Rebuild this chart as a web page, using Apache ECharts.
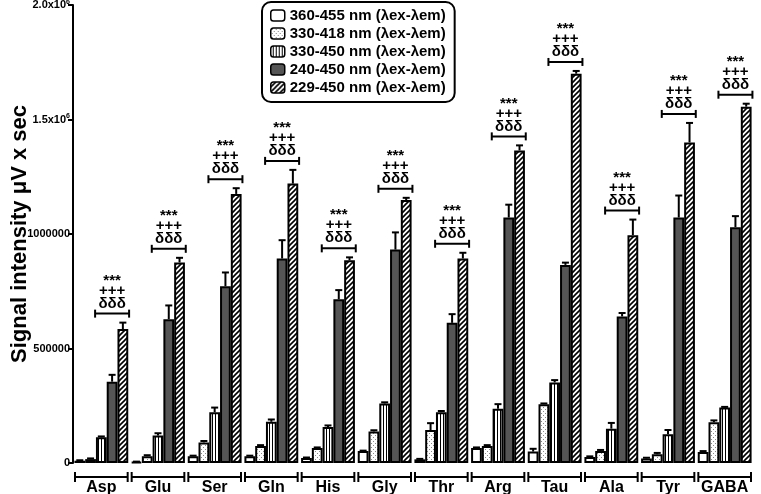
<!DOCTYPE html>
<html><head><meta charset="utf-8">
<script src="https://cdn.jsdelivr.net/npm/echarts@6/dist/echarts.min.js"></script>
<style>html,body{margin:0;padding:0;background:#fff}#c{width:761px;height:494px}</style>
</head><body><div id="c"></div>
<script>
const categories = ['Asp','Glu','Ser','Gln','His','Gly','Thr','Arg','Tau','Ala','Tyr','GABA'];
const seriesNames = ['360-455 nm (λex-λem)','330-418 nm (λex-λem)','330-450 nm (λex-λem)','240-450 nm (λex-λem)','229-450 nm (λex-λem)'];
const v360_455 = [10000, 5000, 30000, 30000, 22000, 52000, 16000, 65000, 50000, 26000, 20000, 48000];
const e360_455 = [2000, 1000, 2000, 2000, 2000, 2000, 2000, 3000, 12000, 3000, 3000, 4000];
const v330_418 = [17000, 30000, 90000, 74000, 65000, 138000, 144000, 74000, 257000, 52000, 38000, 178000];
const e330_418 = [3000, 4000, 6000, 4000, 3000, 5000, 30000, 4000, 3000, 5000, 6000, 8000];
const v330_450 = [112000, 120000, 222000, 180000, 157000, 260000, 222000, 237000, 352000, 150000, 126000, 242000];
const e330_450 = [4000, 10000, 20000, 10000, 7000, 5000, 5000, 20000, 10000, 25000, 18000, 3000];
const v240_450 = [355000, 628000, 772000, 893000, 715000, 932000, 612000, 1072000, 865000, 640000, 1072000, 1030000];
const e240_450 = [30000, 60000, 60000, 80000, 40000, 75000, 38000, 56000, 10000, 15000, 96000, 48000];
const v229_450 = [585000, 876000, 1175000, 1220000, 885000, 1148000, 893000, 1365000, 1700000, 995000, 1400000, 1556000];
const e229_450 = [28000, 20000, 25000, 60000, 13000, 10000, 25000, 22000, 12000, 68000, 85000, 13000];
const yTicks = [0, 500000, 1000000, 1500000, 2000000];
const yTickLabels = [['0',''],['500000',''],['1000000',''],['1.5x10','6'],['2.0x10','6']];
const sigMarks = ['***','+++','δδδ'];

const values = [v360_455, v330_418, v330_450, v240_450, v229_450];
const errors = [e360_455, e330_418, e330_450, e240_450, e229_450];
const BW = 0.19;
const FONT = '"Liberation Sans", Arial, sans-serif';

function pattern(kind){
  const c = document.createElement('canvas');
  const ctx = c.getContext('2d');
  if (kind === 'white') { c.width = 2; c.height = 2; ctx.fillStyle = '#fff'; ctx.fillRect(0,0,2,2); }
  if (kind === 'dots') {
    c.width = 4; c.height = 4; ctx.fillStyle = '#fff'; ctx.fillRect(0,0,4,4);
    ctx.fillStyle = '#8a8a8a'; ctx.fillRect(1,1,1,1); ctx.fillRect(3,3,1,1);
  }
  if (kind === 'vert') {
    c.width = 3; c.height = 2; ctx.fillStyle = '#fff'; ctx.fillRect(0,0,3,2);
    ctx.fillStyle = '#000'; ctx.fillRect(2,0,1,2);
  }
  if (kind === 'hatch') {
    c.width = 5; c.height = 5; ctx.fillStyle = '#fff'; ctx.fillRect(0,0,5,5);
    ctx.strokeStyle = '#000'; ctx.lineWidth = 1.6;
    ctx.beginPath(); ctx.moveTo(-1,6); ctx.lineTo(6,-1); ctx.stroke();
    ctx.beginPath(); ctx.moveTo(-1,1); ctx.lineTo(1,-1); ctx.stroke();
    ctx.beginPath(); ctx.moveTo(4,6); ctx.lineTo(6,4); ctx.stroke();
  }
  return {image: c, repeat: 'repeat'};
}
const fills = [pattern('white'), pattern('dots'), pattern('vert'), '#555555', pattern('hatch')];

const series = [];
seriesNames.forEach((name, i) => {
  series.push({
    name, type: 'bar', barWidth: (BW*100)+'%', barGap: '0%',
    data: values[i],
    itemStyle: {color: fills[i], borderColor: '#000', borderWidth: 2},
    z: 2
  });
});
seriesNames.forEach((name, i) => {
  series.push({
    name: 'err' + i, type: 'custom', z: 3, clip: false,
    data: values[i].map((v, k) => [k, v, v + errors[i][k]]),
    renderItem(params, api) {
      const band = api.size([1, 0])[0];
      const p0 = api.coord([api.value(0), api.value(1)]);
      const p1 = api.coord([api.value(0), api.value(2)]);
      const x = p0[0] + (i - 2) * BW * band;
      const st = {stroke: '#000', lineWidth: 2};
      return {type: 'group', children: [
        {type: 'line', shape: {x1: x, y1: p0[1], x2: x, y2: p1[1]}, style: st},
        {type: 'line', shape: {x1: x - 3.5, y1: p1[1], x2: x + 3.5, y2: p1[1]}, style: st}
      ]};
    }
  });
});
// significance annotations above 240-450 / 229-450 pair
series.push({
  name: 'sig', type: 'custom', z: 4, clip: false,
  data: v229_450.map((v, k) => [k, v + e229_450[k]]),
  renderItem(params, api) {
    const band = api.size([1, 0])[0];
    const p = api.coord([api.value(0), api.value(1)]);
    const x = p[0] + 1 * BW * band;
    const yb = p[1] - 9;
    const st = {stroke: '#000', lineWidth: 2};
    const tf = 'bold 15px ' + FONT;
    return {type: 'group', children: [
      {type: 'line', shape: {x1: x - 17, y1: yb, x2: x + 17, y2: yb}, style: st},
      {type: 'line', shape: {x1: x - 17, y1: yb - 4, x2: x - 17, y2: yb + 4}, style: st},
      {type: 'line', shape: {x1: x + 17, y1: yb - 4, x2: x + 17, y2: yb + 4}, style: st},
      {type: 'text', style: {text: sigMarks[2], x: x, y: yb - 10, align: 'center', verticalAlign: 'middle', font: tf, fill: '#000'}},
      {type: 'text', style: {text: sigMarks[1], x: x, y: yb - 23, align: 'center', verticalAlign: 'middle', font: tf, fill: '#000'}},
      {type: 'text', style: {text: sigMarks[0], x: x, y: yb - 33, align: 'center', verticalAlign: 'middle', font: tf, fill: '#000'}}
    ]};
  }
});
// segmented x-axis brackets
series.push({
  name: 'xbracket', type: 'custom', z: 4, clip: false, silent: true,
  data: categories.map((c, k) => [k, 0]),
  renderItem(params, api) {
    const band = api.size([1, 0])[0];
    const p = api.coord([api.value(0), 0]);
    const y = p[1] + 14;
    const x0 = p[0] - band / 2 + 2, x1 = p[0] + band / 2 - 2;
    const st = {stroke: '#000', lineWidth: 2};
    return {type: 'group', children: [
      {type: 'line', shape: {x1: x0, y1: y, x2: x1, y2: y}, style: st},
      {type: 'line', shape: {x1: x0, y1: y - 5, x2: x0, y2: y + 5}, style: st},
      {type: 'line', shape: {x1: x1, y1: y - 5, x2: x1, y2: y + 5}, style: st}
    ]};
  }
});

const chart = echarts.init(document.getElementById('c'), null, {renderer: 'canvas'});
chart.setOption({
  animation: false,
  backgroundColor: '#fff',
  grid: {left: 73, right: 8, top: 5, bottom: 31, containLabel: false, outerBoundsMode: 'none'},
  legend: {
    data: seriesNames, orient: 'vertical', left: 262, top: 2,
    itemWidth: 14, itemHeight: 11, itemGap: 3,
    borderColor: '#000', borderWidth: 2, borderRadius: 9, padding: [6, 9, 7, 8],
    textStyle: {fontFamily: FONT, fontWeight: 'bold', fontSize: 15, color: '#000'},
    itemStyle: {borderColor: '#000', borderWidth: 1.5},
    selectedMode: false
  },
  xAxis: {
    type: 'category', data: categories,
    axisLine: {show: false}, axisTick: {show: false}, splitLine: {show: false},
    axisLabel: {interval: 0, margin: 17, fontFamily: FONT, fontWeight: 'bold', fontSize: 16, color: '#000'}
  },
  yAxis: {
    type: 'value', min: 0, max: 2000000, interval: 500000,
    name: 'Signal intensity μV x sec', nameLocation: 'middle', nameGap: 42, nameMoveOverlap: false,
    nameTextStyle: {fontFamily: FONT, fontWeight: 'bold', fontSize: 22, color: '#000'},
    axisLine: {show: true, lineStyle: {color: '#000', width: 2}},
    axisTick: {show: true, length: 5, lineStyle: {color: '#000', width: 2}},
    splitLine: {show: false},
    axisLabel: {
      margin: 3, color: '#000',
      formatter: (v) => {
        const k = yTicks.indexOf(v);
        const t = k >= 0 ? yTickLabels[k] : [String(v), ''];
        return t[1] ? '{b|' + t[0] + '}{s|' + t[1] + '}' : '{b|' + t[0] + '}';
      },
      rich: {
        b: {fontFamily: FONT, fontWeight: 'bold', fontSize: 11, color: '#000'},
        s: {fontFamily: FONT, fontWeight: 'bold', fontSize: 7, color: '#000', verticalAlign: 'top', padding: [0, 0, 6, 0]}
      }
    }
  },
  series
});
</script></body></html>
